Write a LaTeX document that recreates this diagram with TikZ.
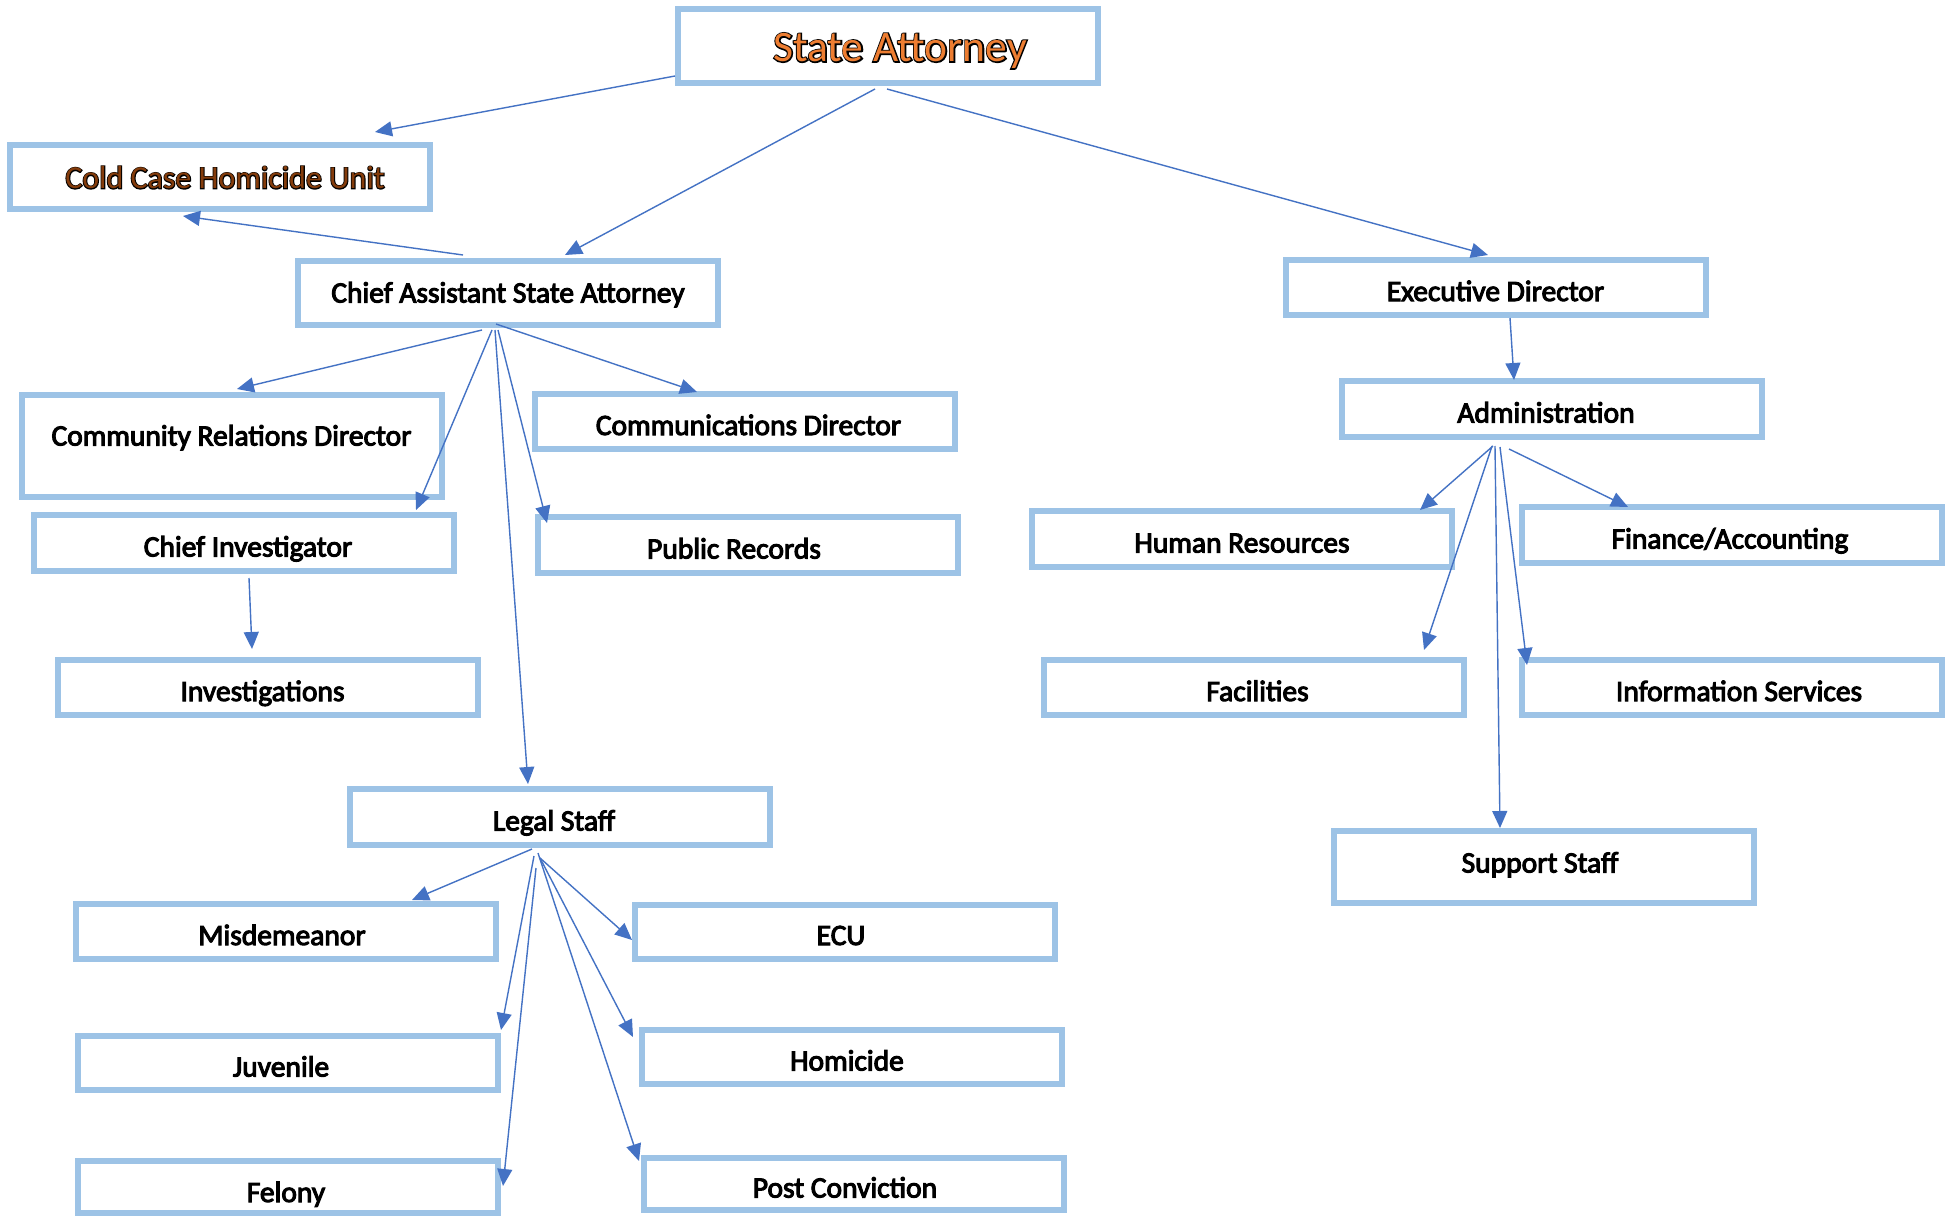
\documentclass[tikz,border=0pt]{standalone}
\usepackage{fontspec}
\usetikzlibrary{arrows.meta}
\setmainfont{Carlito}
\newfontfamily\boldish{Carlito}[FakeBold=3.5]
\newfontfamily\rimfont{Carlito}[FakeBold=6]
\newfontfamily\corefont{Carlito}
% outlined label: black rim underneath, coloured glyphs on top
\newcommand{\rimmed}[2]{\rlap{\color{black}\rimfont #2}{\color{#1}\corefont #2}}
% move a centred label sideways by #1
\newcommand{\nudge}[1]{\hspace*{#1}\hspace*{#1}}
\definecolor{boxblue}{HTML}{9DC3E6}
\definecolor{linkblue}{HTML}{4472C4}
\definecolor{saorange}{HTML}{ED7D31}
\definecolor{darkbrown}{HTML}{843C0C}
\tikzset{
  orgbox/.style={draw=boxblue, line width=6pt, minimum width=420pt, inner sep=0pt,
    text height=27pt, text depth=0pt, font=\fontsize{29.5}{34}\boldish},
  link/.style={draw=linkblue, line width=1.4pt, -{Triangle[length=17pt,width=15pt]}},
}
\begin{document}
\begin{tikzpicture}[x=1pt,y=-1pt]
\useasboundingbox[fill=white] (0,0) rectangle (1952,1217);

% top level
\node[orgbox, minimum height=74pt, text height=31pt, font=\fontsize{43.5}{50}\selectfont] (sa) at (888,46) {\nudge{12pt}\rimmed{saorange}{State Attorney}};
\node[orgbox, minimum height=64pt, text height=23pt, font=\fontsize{32}{37}\selectfont] (cold) at (220,177) {\nudge{5pt}\rimmed{darkbrown}{Cold Case Homicide Unit}};
\node[orgbox, minimum height=64pt, text height=19pt] (ca) at (508,293) {Chief Assistant State Attorney};
\node[orgbox, minimum height=55pt] (ed) at (1495.5,287.5) {Executive Director};

% under the chief assistant
\node[orgbox, minimum height=102pt, text height=19pt, text depth=20pt] (crd) at (231.5,446) {Community Relations Director};
\node[orgbox, minimum height=55pt] (comms) at (744.5,421.5) {\nudge{4pt}Communications Director};
\node[orgbox, minimum height=56pt] (cinv) at (244,543) {\nudge{4pt}Chief Investigator};
\node[orgbox, minimum height=56pt] (pr) at (748,545) {\nudge{-14pt}Public Records};
\node[orgbox, minimum height=55pt] (inv) at (267.5,687.5) {\nudge{-5pt}Investigations};
\node[orgbox, minimum height=56pt] (legal) at (560,817) {\nudge{-6pt}Legal Staff};

% legal staff divisions
\node[orgbox, minimum height=55pt] (misd) at (286,931.5) {\nudge{-4pt}Misdemeanor};
\node[orgbox, minimum height=54pt] (juv) at (288,1063) {\nudge{-7pt}Juvenile};
\node[orgbox, minimum height=52pt, text height=30pt] (fel) at (288,1187) {\nudge{-2pt}Felony};
\node[orgbox, minimum height=54pt] (ecu) at (845,931.5) {\nudge{-4pt}ECU};
\node[orgbox, minimum height=54pt] (hom) at (852,1057) {\nudge{-5pt}Homicide};
\node[orgbox, minimum height=52pt] (pc) at (854,1184) {\nudge{-9pt}Post Conviction};

% administration branch
\node[orgbox, minimum height=56pt] (admin) at (1552,409) {\nudge{-6pt}Administration};
\node[orgbox, minimum height=56pt] (hr) at (1242,539) {Human Resources};
\node[orgbox, minimum height=56pt] (fin) at (1732,535) {\nudge{-2pt}Finance/Accounting};
\node[orgbox, minimum height=55pt] (fac) at (1253.5,687.5) {\nudge{4pt}Facilities};
\node[orgbox, minimum height=55pt] (info) at (1732,687.5) {\nudge{7pt}Information Services};
\node[orgbox, minimum height=72pt, text height=19pt, text depth=8pt] (sup) at (1544,867) {\nudge{-4pt}Support Staff};

% connectors
\draw[link] ([yshift=-30pt]sa.west) -- ([xshift=155pt,yshift=10pt]cold.north);
\draw[link] ([xshift=-13pt,yshift=-3pt]sa.south) -- ([xshift=57pt,yshift=3pt]ca.north);
\draw[link] ([xshift=-1pt,yshift=-3pt]sa.south) -- ([xshift=-7.5pt,yshift=2pt]ed.north);
\draw[link] ([xshift=-45pt,yshift=3pt]ca.north) -- ([xshift=-37pt,yshift=-4pt]cold.south);

\draw[link] ([xshift=-26pt,yshift=-2pt]ca.south) -- ([xshift=5.5pt,yshift=3pt]crd.north);
\draw[link] ([xshift=-16pt,yshift=-2pt]ca.south) -- ([xshift=172pt,yshift=2pt]cinv.north);
\draw[link] ([xshift=-13pt,yshift=-2pt]ca.south) -- ([xshift=-32pt,yshift=2pt]legal.north);
\draw[link] ([xshift=-10pt,yshift=-2pt]ca.south) -- ([xshift=12pt,yshift=-9pt]pr.north west);
\draw[link] ([xshift=-12pt,yshift=4pt]ca.south) -- ([xshift=-47.5pt,yshift=-1pt]comms.north);
\draw[link] ([xshift=5pt,yshift=-4pt]cinv.south) -- ([xshift=-15.5pt,yshift=8pt]inv.north);

\draw[link] ([xshift=14.5pt]ed.south) -- ([xshift=-38pt,yshift=-2pt]admin.north);
\draw[link] ([xshift=-59pt,yshift=-6pt]admin.south) -- ([xshift=178pt,yshift=-2pt]hr.north);
\draw[link] ([xshift=-60pt,yshift=-6pt]admin.south) -- ([xshift=170.5pt,yshift=7pt]fac.north);
\draw[link] ([xshift=-57pt,yshift=-6pt]admin.south) -- ([xshift=-44pt]sup.north);
\draw[link] ([xshift=-52pt,yshift=-7pt]admin.south) -- ([xshift=8pt,yshift=-8pt]info.north west);
\draw[link] ([xshift=-43pt,yshift=-9pt]admin.south) -- ([xshift=-104pt,yshift=-3pt]fin.north);

\draw[link] ([xshift=-28pt,yshift=-1pt]legal.south) -- ([xshift=126pt,yshift=1pt]misd.north);
\draw[link] ([xshift=-26pt,yshift=-8pt]legal.south) -- ([yshift=3pt]juv.north east);
\draw[link] ([xshift=-24pt,yshift=-20pt]legal.south) -- ([xshift=2pt,yshift=-28pt]fel.north east);
\draw[link] ([xshift=-20pt,yshift=-10pt]legal.south) -- ([yshift=-8.5pt]ecu.west);
\draw[link] ([xshift=-20pt,yshift=-10pt]legal.south) -- ([xshift=-6pt,yshift=-10pt]hom.north west);
\draw[link] ([xshift=-22pt,yshift=-5pt]legal.south) -- ([xshift=-2pt,yshift=-6pt]pc.north west);
\end{tikzpicture}
\end{document}
